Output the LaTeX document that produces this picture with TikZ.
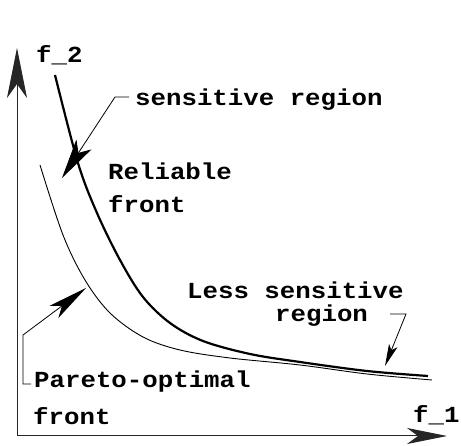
\documentclass[tikz,border=0pt]{standalone}
\usepackage{fontspec}
\newfontfamily\lblfont[FakeStretch=1.12]{Liberation Mono}
\usetikzlibrary{arrows.meta}
\begin{document}
\begin{tikzpicture}[x=1pt,y=-1pt,
  lbl/.style={font=\lblfont\bfseries\fontsize{23}{28}\selectfont,inner sep=0pt,anchor=base west},
  axis/.style={black!85,line width=1pt},
  leader/.style={black,line width=0.8pt},
  thick front/.style={line width=2.2pt},
  thin front/.style={line width=0.9pt}]
\useasboundingbox (0,0) rectangle (461,446);
% axes
\coordinate (O) at (17,436);
\coordinate (Ytip) at (17,48);
\coordinate (Xtip) at (447,436);
\draw[axis,-{Stealth[length=50pt,width=20pt,inset=14pt]}] (O) -- (Ytip);
\draw[axis,-{Stealth[length=40pt,width=16pt,inset=11pt]}] (O) -- (Xtip);
\node[lbl] (f2) at (36,63) {f\_2};
\node[lbl] (f1) at (413,423) {f\_1};
% fronts
\draw[thick front] plot[smooth,tension=0.55] coordinates
 {(55,75) (78,163) (97,213) (120,260) (143,297) (170,323) (203,341) (250,354) (300,362) (367,371) (428,376)};
\draw[thin front] plot[smooth,tension=0.55] coordinates
 {(40,165) (63,235) (85,280) (110,313) (143,337) (180,350) (230,358) (300,365) (367,374) (432,380)};
% labels
\node[lbl] (sens) at (135,106) {sensitive region};
\node[lbl] (rel1) at (108,180) {Reliable};
\node[lbl] (rel2) at (108,213) {front};
\node[lbl] (less1) at (187,299) {Less sensitive};
\node[lbl] (less2) at (275,322) {region};
\node[lbl] (par1) at (34,388) {Pareto-optimal};
\node[lbl] (par2) at (33,425) {front};
% callouts
\coordinate (s0) at (129,97);
\coordinate (s1) at (115,97);
\coordinate (s2) at (62,178);
\draw[leader,-{Stealth[length=40pt,width=18pt,inset=10pt]}] (s0) -- (s1) -- (s2);
\coordinate (l0) at (390,314);
\coordinate (l1) at (406,314);
\coordinate (l2) at (385,366);
\draw[leader,-{Stealth[length=22pt,width=9pt,inset=5pt]}] (l0) -- (l1) -- (l2);
\coordinate (p0) at (31,384);
\coordinate (p1) at (23,384);
\coordinate (p2) at (23,335);
\coordinate (p3) at (86,288);
\draw[leader,-{Stealth[length=40pt,width=15pt,inset=10pt]}] (p0) -- (p1) -- (p2) -- (p3);
\end{tikzpicture}
\end{document}
